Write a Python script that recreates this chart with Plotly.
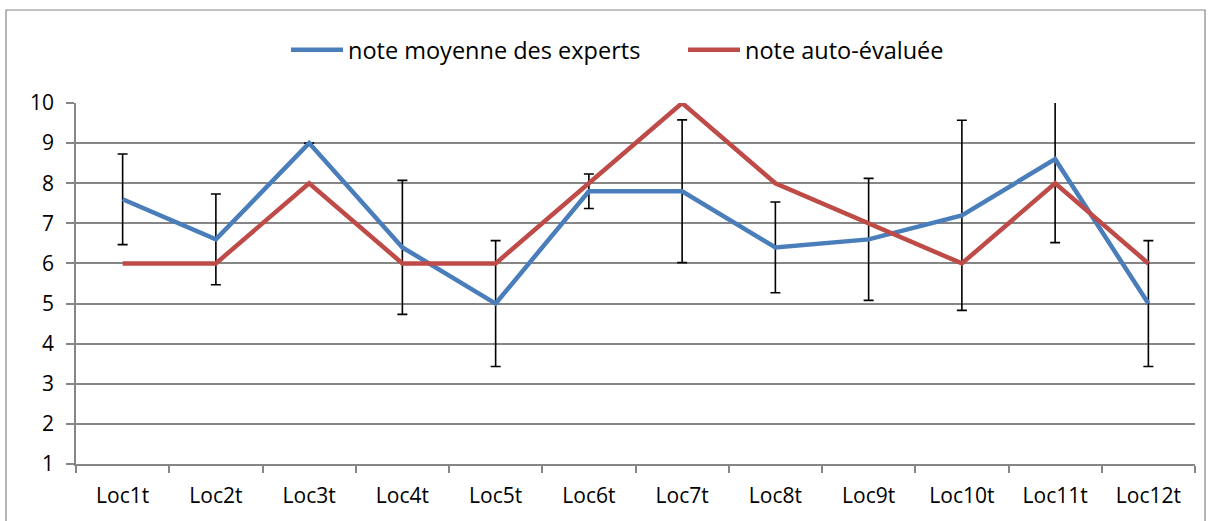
import plotly.graph_objects as go

categories = ["Loc1t", "Loc2t", "Loc3t", "Loc4t", "Loc5t", "Loc6t",
              "Loc7t", "Loc8t", "Loc9t", "Loc10t", "Loc11t", "Loc12t"]
experts = [7.6, 6.6, 9.0, 6.4, 5.0, 7.8, 7.8, 6.4, 6.6, 7.2, 8.6, 5.0]
experts_err = [1.13, 1.13, float("nan"), 1.67, 1.57, 0.43, 1.78, 1.13, 1.52, 2.37, 2.08, 1.57]
auto = [6, 6, 8, 6, 6, 8, 10, 8, 7, 6, 8, 6]

W, H = 1211, 521
L, R, T, B = 76, 1195, 103, 464

FONT = "Open Sans"

fig = go.Figure()
fig.add_trace(go.Scatter(
    x=categories, y=experts, mode="lines", name="note moyenne des experts",
    line=dict(color="#4A7EBB", width=4.5),
    error_y=dict(type="data", array=experts_err, visible=True,
                 color="black", thickness=1.6, width=5),
))
fig.add_trace(go.Scatter(
    x=categories, y=auto, mode="lines", name="note auto-évaluée",
    line=dict(color="#BE4B48", width=4.5),
))

def px(x):
    return (x - L) / (R - L)

def py(y):
    return (B - y) / (B - T)

fig.add_shape(type="rect", xref="paper", yref="paper",
              x0=px(6), x1=px(1205), y0=py(540), y1=py(10),
              line=dict(color="#868686", width=1.2), layer="below")

fig.update_layout(
    width=W, height=H,
    margin=dict(l=L, r=W - R, t=T, b=H - B, autoexpand=False),
    paper_bgcolor="white", plot_bgcolor="white",
    font=dict(family=FONT, size=22, color="black"),
    showlegend=True,
    legend=dict(orientation="h", x=px(286), y=py(50), xanchor="left", yanchor="middle",
                font=dict(family=FONT, size=23.5, color="black"),
                itemwidth=52, entrywidth=330, entrywidthmode="pixels",
                bgcolor="rgba(0,0,0,0)"),
    xaxis=dict(type="category", range=[-0.5, 11.5], showgrid=False,
               showline=True, linecolor="#868686", linewidth=1.5,
               ticks="outside", tickson="boundaries", ticklen=7,
               tickcolor="#868686", tickwidth=1.5, ticklabelstandoff=12,
               tickfont=dict(family=FONT, size=21, color="black")),
    yaxis=dict(range=[1, 10], dtick=1, tick0=1, showgrid=True,
               gridcolor="#868686", gridwidth=1.5,
               showline=True, linecolor="#868686", linewidth=1.5,
               ticks="outside", ticklen=8, tickcolor="#868686", tickwidth=1.5,
               zeroline=False, ticklabelstandoff=8,
               tickfont=dict(family=FONT, size=21, color="black")),
)

fig.write_html("out.html", config={"displayModeBar": False},
               post_script="document.body.style.margin='0';")
